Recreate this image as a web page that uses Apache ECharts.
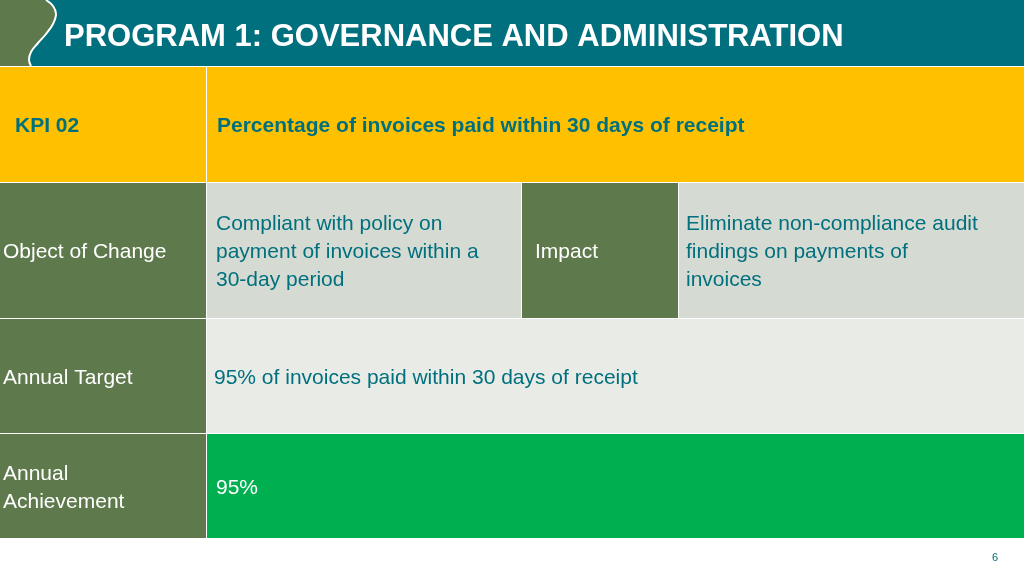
<!DOCTYPE html>
<html><head><meta charset="utf-8">
<script src="https://cdn.jsdelivr.net/npm/echarts@6/dist/echarts.min.js"></script>
<style>html,body{margin:0;padding:0;background:#fff}#main{width:1024px;height:575px}</style>
</head><body><div id="main"></div>
<script>
var title = 'PROGRAM 1: GOVERNANCE AND ADMINISTRATION'
var rowLabels = ['KPI 02', 'Object of Change', 'Annual Target', 'Annual\nAchievement']
var rowValues = ['Percentage of invoices paid within 30 days of receipt',
  'Compliant with policy on\npayment of invoices within a\n30-day period',
  '95% of invoices paid within 30 days of receipt', '95%']
var impactLabel = 'Impact'
var impactValue = 'Eliminate non-compliance audit\nfindings on payments of\ninvoices'
var pageNo = '6'

var teal = '#00707E', olive = '#5E7A4C', font = 'Liberation Sans'
var rows = [[67, 182], [183, 318], [319, 433], [434, 538]]
var g = []
function rect(x, y, w, h, c) { g.push({ type: 'rect', shape: { x: x, y: y, width: w, height: h }, style: { fill: c } }) }
function txt(x, y, t, c, bold) {
  g.push({ type: 'text', x: x, y: y, style: { text: t, fill: c, font: (bold ? 'bold ' : '') + '21px ' + font, lineHeight: 28, verticalAlign: 'middle' } })
}
// header
rect(0, 0, 1024, 66, teal)
var curve = [[46, 0], [53, 6], [56, 14], [53, 24], [46, 34], [38, 43], [31, 52], [29, 60], [31, 66]]
g.push({ type: 'polygon', shape: { points: [[0, 0]].concat(curve, [[0, 66]]) }, style: { fill: olive } })
g.push({ type: 'polyline', shape: { points: curve, smooth: 0.4 }, style: { stroke: '#fff', lineWidth: 2, fill: null } })
g.push({ type: 'text', x: 64, y: 37, style: { text: title, fill: '#fff', font: 'bold 31px ' + font, verticalAlign: 'middle' } })
// row 0
var r = rows[0]
rect(0, r[0], 206, r[1] - r[0], '#FFC000'); rect(207, r[0], 817, r[1] - r[0], '#FFC000')
txt(15, 126, rowLabels[0], teal, true); txt(217, 126, rowValues[0], teal, true)
// row 1
r = rows[1]
rect(0, r[0], 206, r[1] - r[0], olive); rect(207, r[0], 314, r[1] - r[0], '#D5DAD2')
rect(522, r[0], 156, r[1] - r[0], olive); rect(679, r[0], 345, r[1] - r[0], '#D5DAD2')
txt(3, 252, rowLabels[1], '#fff'); txt(216, 252, rowValues[1], teal)
txt(535, 252, impactLabel, '#fff'); txt(686, 252, impactValue, teal)
// row 2
r = rows[2]
rect(0, r[0], 206, r[1] - r[0], olive); rect(207, r[0], 817, r[1] - r[0], '#E9EBE7')
txt(3, 378, rowLabels[2], '#fff'); txt(214, 378, rowValues[2], teal)
// row 3
r = rows[3]
rect(0, r[0], 206, r[1] - r[0], olive); rect(207, r[0], 817, r[1] - r[0], '#00B050')
txt(3, 488, rowLabels[3], '#fff'); txt(216, 488, rowValues[3], '#fff')
g.push({ type: 'text', x: 992, y: 558, style: { text: pageNo, fill: teal, font: '11px ' + font, verticalAlign: 'middle' } })

var chart = echarts.init(document.getElementById('main'))
chart.setOption({ animation: false, graphic: g })
</script></body></html>
